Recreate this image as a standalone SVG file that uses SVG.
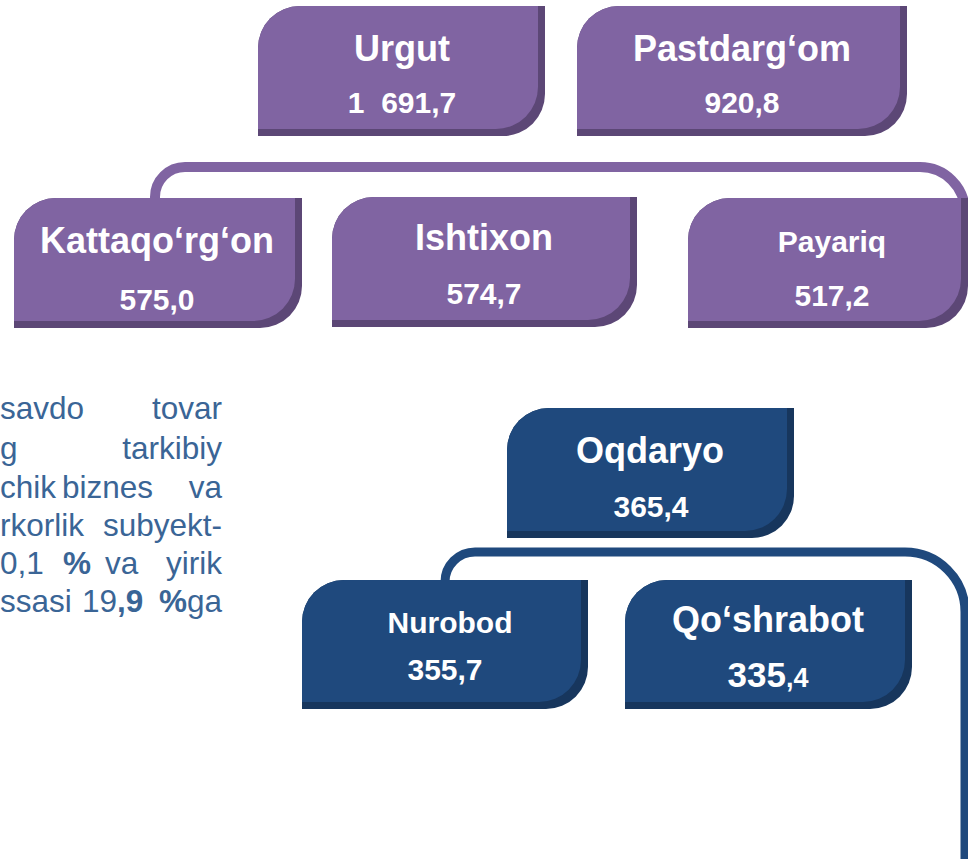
<svg xmlns="http://www.w3.org/2000/svg" width="968" height="859" viewBox="0 0 968 859">
<style>
.pl{fill:#8064A2}.pd{fill:#5C4776}
.bl{fill:#1F497D}.bd{fill:#17365D}
.t{font-family:"Liberation Sans",Arial,sans-serif;font-weight:bold;fill:#ffffff;text-anchor:middle}
.h{font-size:36px}.v{font-size:30px}
.body{font-family:"Liberation Sans",Arial,sans-serif;font-size:31.5px;fill:#3A6596}
.b{font-weight:bold}
.conn{fill:none;stroke-linecap:butt}
</style>
<rect width="968" height="859" fill="#ffffff"/>
<g id="connectors">
<path class="conn" d="M155,205 V197 A30,30 0 0 1 185,167 H920 A45,45 0 0 1 965,212 V260" stroke="#8064A2" stroke-width="10"/>
<path class="conn" d="M445,588 V582 A30,30 0 0 1 475,552 H905 A60,60 0 0 1 965,612 V859" stroke="#1F497D" stroke-width="9"/>
</g>
<g id="urgut">
<path class="pd" d="M258,48 A42,42 0 0 1 300,6 H545 V94 A42,42 0 0 1 503,136 H258 Z"/>
<path class="pl" d="M258,48 A42,42 0 0 1 300,6 H538 V87 A42,42 0 0 1 496,129 H258 Z"/>
<text class="t h" x="402" y="61">Urgut</text>
<text class="t v" x="402" y="113" xml:space="preserve">1  691,7</text>
</g>
<g id="pastdargom">
<path class="pd" d="M577,48 A42,42 0 0 1 619,6 H907 V94 A42,42 0 0 1 865,136 H577 Z"/>
<path class="pl" d="M577,48 A42,42 0 0 1 619,6 H900 V87 A42,42 0 0 1 858,129 H577 Z"/>
<text class="t h" x="742" y="61">Pastdarg‘om</text>
<text class="t v" x="742" y="113">920,8</text>
</g>
<g id="kattaqorgon">
<path class="pd" d="M14,240 A42,42 0 0 1 56,198 H302 V286 A42,42 0 0 1 260,328 H14 Z"/>
<path class="pl" d="M14,240 A42,42 0 0 1 56,198 H295 V279 A42,42 0 0 1 253,321 H14 Z"/>
<text class="t h" x="157" y="253">Kattaqo‘rg‘on</text>
<text class="t v" x="157" y="310">575,0</text>
</g>
<g id="ishtixon">
<path class="pd" d="M332,239 A42,42 0 0 1 374,197 H637 V285 A42,42 0 0 1 595,327 H332 Z"/>
<path class="pl" d="M332,239 A42,42 0 0 1 374,197 H630 V278 A42,42 0 0 1 588,320 H332 Z"/>
<text class="t h" x="484" y="250">Ishtixon</text>
<text class="t v" x="484" y="304">574,7</text>
</g>
<g id="payariq">
<path class="pd" d="M688,240 A42,42 0 0 1 730,198 H968 V286 A42,42 0 0 1 926,328 H688 Z"/>
<path class="pl" d="M688,240 A42,42 0 0 1 730,198 H961 V279 A42,42 0 0 1 919,321 H688 Z"/>
<text class="t v" x="832" y="252">Payariq</text>
<text class="t v" x="832" y="306">517,2</text>
</g>
<g id="oqdaryo">
<path class="bd" d="M507,450 A42,42 0 0 1 549,408 H794 V496 A42,42 0 0 1 752,538 H507 Z"/>
<path class="bl" d="M507,450 A42,42 0 0 1 549,408 H787 V489 A42,42 0 0 1 745,531 H507 Z"/>
<text class="t h" x="650" y="463">Oqdaryo</text>
<text class="t v" x="651" y="517">365,4</text>
</g>
<g id="nurobod">
<path class="bd" d="M302,622 A42,42 0 0 1 344,580 H588 V667 A42,42 0 0 1 546,709 H302 Z"/>
<path class="bl" d="M302,622 A42,42 0 0 1 344,580 H581 V660 A42,42 0 0 1 539,702 H302 Z"/>
<text class="t v" x="450" y="633">Nurobod</text>
<text class="t v" x="445" y="680">355,7</text>
</g>
<g id="qoshrabot">
<path class="bd" d="M625,622 A42,42 0 0 1 667,580 H912 V667 A42,42 0 0 1 870,709 H625 Z"/>
<path class="bl" d="M625,622 A42,42 0 0 1 667,580 H905 V660 A42,42 0 0 1 863,702 H625 Z"/>
<text class="t" x="768" y="687"><tspan font-size="35">335</tspan><tspan font-size="27">,4</tspan></text>
<text class="t h" x="768" y="632">Qo‘shrabot</text>
</g>
<g id="body-text" class="body">
<text x="0" y="419">savdo</text>
<text x="222" y="419" text-anchor="end">tovar</text>
<text x="0" y="459">g</text>
<text x="222" y="459" text-anchor="end">tarkibiy</text>
<text x="0" y="498">chik</text>
<text x="62" y="498">biznes</text>
<text x="222" y="498" text-anchor="end">va</text>
<text x="0" y="536">rkorlik</text>
<text x="222" y="536" text-anchor="end">subyekt-</text>
<text x="0" y="574">0,1</text>
<text x="63" y="574" class="b">%</text>
<text x="105" y="574">va</text>
<text x="222" y="574" text-anchor="end">yirik</text>
<text x="0" y="612">ssasi</text>
<text x="82" y="612">19<tspan class="b">,9</tspan></text>
<text x="222" y="612" text-anchor="end"><tspan class="b">%</tspan>ga</text>
</g>
</svg>
